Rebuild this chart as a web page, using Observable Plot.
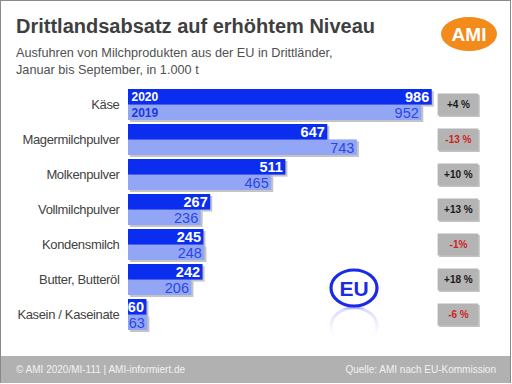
<!DOCTYPE html>
<html><head><meta charset="utf-8">
<script src="https://cdn.jsdelivr.net/npm/d3@7"></script>
<script src="https://cdn.jsdelivr.net/npm/@observablehq/plot@0.6"></script>
<style>
html,body{margin:0;padding:0;background:#fff;}
#wrap{position:relative;width:509px;height:382px;border:1.5px solid #8a8a8a;border-bottom:none;overflow:hidden;font-family:"Liberation Sans",Arial,sans-serif;background:#fff;}
#title{position:absolute;left:15px;top:14px;font-size:20px;font-weight:bold;color:#3f3f3f;white-space:nowrap;}
#sub{position:absolute;left:15px;top:44px;font-size:12.7px;line-height:17px;color:#505050;white-space:nowrap;}
#chart{position:absolute;left:0;top:80px;}
#footer{position:absolute;left:0;top:355px;width:509px;height:27px;background:#b1b1b1;color:#f2f2f2;font-size:10px;}
#footer .l{position:absolute;left:15px;top:8px;}
#footer .r{position:absolute;right:14px;top:8px;}
.logo{position:absolute;}
</style></head>
<body>
<div id="wrap">
  <div id="title">Drittlandsabsatz auf erhöhtem Niveau</div>
  <div id="sub">Ausfuhren von Milchprodukten aus der EU in Drittländer,<br>Januar bis September, in 1.000 t</div>
  <svg class="logo" style="left:438px;top:14px" width="62" height="38">
    <ellipse cx="30" cy="19" rx="28" ry="17" fill="#f28a1c"/>
    <text x="30" y="26" text-anchor="middle" fill="#fff" font-weight="bold" font-size="19" font-family="Liberation Sans, Arial, sans-serif">AMI</text>
  </svg>
  <div id="chart"></div>
  <svg class="logo" style="left:326px;top:266px" width="54" height="68">
    <defs><linearGradient id="fade" x1="0" y1="0" x2="0" y2="1"><stop offset="0" stop-color="#fff" stop-opacity="0.5"/><stop offset="1" stop-color="#fff" stop-opacity="1"/></linearGradient></defs>
    <g transform="translate(0,80) scale(1,-1)" opacity="0.35"><ellipse cx="27" cy="21" rx="23" ry="18" fill="none" stroke="#2a3bea" stroke-width="3"/></g>
    <rect x="0" y="42" width="54" height="26" fill="url(#fade)"/>
    <ellipse cx="27" cy="21" rx="23" ry="18" fill="#fff" stroke="#1a2ae6" stroke-width="3.2"/>
    <text x="27" y="29" text-anchor="middle" fill="#1a2ae6" font-weight="bold" font-size="21" font-family="Liberation Sans, Arial, sans-serif">EU</text>
  </svg>
  <div id="footer"><span class="l">© AMI 2020/MI-111 | AMI-informiert.de</span><span class="r">Quelle: AMI nach EU-Kommission</span></div>
</div>
<script>
const categories = ["Käse","Magermilchpulver","Molkenpulver","Vollmilchpulver","Kondensmilch","Butter, Butteröl","Kasein / Kaseinate"];
const values2020 = [986, 647, 511, 267, 245, 242, 60];
const values2019 = [952, 743, 465, 236, 248, 206, 63];
const changeLabels = ["+4 %","-13 %","+10 %","+13 %","-1%","+18 %","-6 %"];
const changeNegative = [false,true,false,false,true,false,true];
const yearLabels = ["2020","2019"];

const rows = categories.map((c,i)=>({cat:c, v20:values2020[i], v19:values2019[i], chg:changeLabels[i], neg:changeNegative[i]}));
const half = 15.4;
const boxX = [1005, 1137];
const font = "Liberation Sans, Arial, sans-serif";

const plot = Plot.plot({
  width: 509, height: 268,
  marginLeft: 127, marginRight: 0, marginTop: 0, marginBottom: 0,
  style: {fontFamily: font, fontSize: "13px", color: "#424242", background: "transparent"},
  x: {domain: [0, 1240], axis: null},
  y: {domain: categories, range: [5.5, 250.5], paddingInner: 0.12, paddingOuter: 0.06, tickSize: 0, tickPadding: 9, label: null},
  marks: [
    Plot.barX(rows, {x: "v19", y: "cat", insetTop: half, fill: "#c4c4c4", dx: 2, dy: 2}),
    Plot.barX(rows, {x: "v20", y: "cat", insetBottom: half, fill: "#c4c4c4", dx: 2, dy: 2}),
    Plot.barX(rows, {x: "v19", y: "cat", insetTop: half, fill: "#93a6f6"}),
    Plot.barX(rows, {x: "v20", y: "cat", insetBottom: half, fill: "#0b2df0"}),
    Plot.text(rows, {x: "v20", y: "cat", text: d => String(d.v20), dy: -7.5, dx: -3, textAnchor: "end", fill: "#fff", fontWeight: "bold", fontSize: 14.5}),
    Plot.text(rows, {x: "v19", y: "cat", text: d => String(d.v19), dy: 8, dx: -3, textAnchor: "end", fill: "#2b47e2", fontSize: 14.5}),
    Plot.text([rows[0]], {x: 0, y: "cat", text: () => yearLabels[0], dy: -7.5, dx: 3, textAnchor: "start", fill: "#fff", fontWeight: "bold", fontSize: 12}),
    Plot.text([rows[0]], {x: 0, y: "cat", text: () => yearLabels[1], dy: 8, dx: 3, textAnchor: "start", fill: "#2238d8", fontWeight: "bold", fontSize: 12}),
    Plot.rect(rows, {x1: boxX[0], x2: boxX[1], y: "cat", insetTop: 4.5, insetBottom: 4.5, fill: "#c2c2c2", dx: 1.5, dy: 1.5}),
    Plot.rect(rows, {x1: boxX[0], x2: boxX[1], y: "cat", insetTop: 4.5, insetBottom: 4.5, fill: "#b4b4b4"}),
    Plot.text(rows, {x: (boxX[0]+boxX[1])/2, y: "cat", text: "chg", fill: d => d.neg ? "#cf1f1f" : "#1a1a1a", fontWeight: "bold", fontSize: 10})
  ]
});
d3.select(plot).selectAll('g[aria-label^="y-axis"] text').style("letter-spacing", "-0.35px");
document.getElementById("chart").appendChild(plot);
</script>
</body></html>
